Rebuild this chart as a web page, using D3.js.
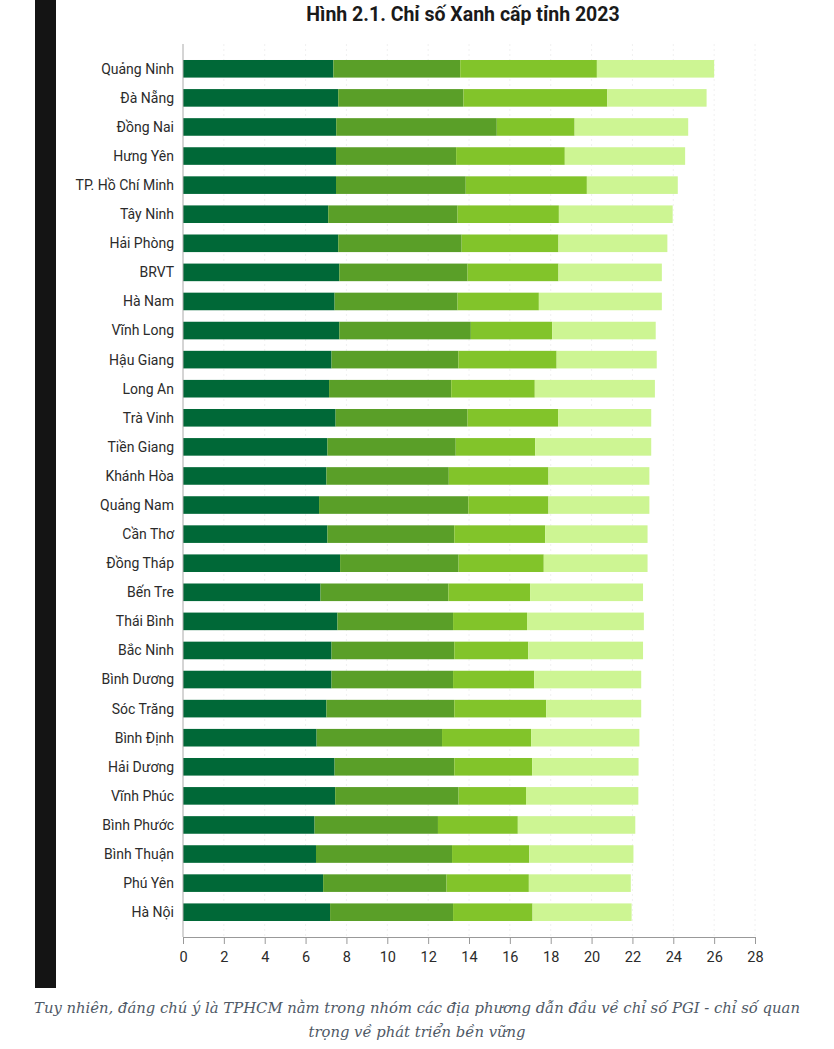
<!DOCTYPE html>
<html>
<head>
<meta charset="utf-8">
<script src="https://cdn.jsdelivr.net/npm/d3@7"></script>
<style>
  body { margin: 0; background: #fff; }
  svg { display: block; }
</style>
</head>
<body>
<div class="chart"></div>
<script>
// Chỉ số Xanh cấp tỉnh 2023 - bốn thành phần
var provinces = ["Quảng Ninh", "Đà Nẵng", "Đồng Nai", "Hưng Yên", "TP. Hồ Chí Minh", "Tây Ninh",
    "Hải Phòng", "BRVT", "Hà Nam", "Vĩnh Long", "Hậu Giang", "Long An", "Trà Vinh", "Tiền Giang",
    "Khánh Hòa", "Quảng Nam", "Cần Thơ", "Đồng Tháp", "Bến Tre", "Thái Bình", "Bắc Ninh",
    "Bình Dương", "Sóc Trăng", "Bình Định", "Hải Dương", "Vĩnh Phúc", "Bình Phước", "Bình Thuận",
    "Phú Yên", "Hà Nội"];
var part1 = [7.36, 7.60, 7.50, 7.49, 7.49, 7.11, 7.60, 7.65, 7.42, 7.65, 7.27, 7.15, 7.47, 7.07,
    7.02, 6.66, 7.07, 7.69, 6.73, 7.56, 7.27, 7.27, 7.02, 6.54, 7.42, 7.45, 6.44, 6.51, 6.86, 7.20];
var part2 = [6.21, 6.13, 7.86, 5.88, 6.35, 6.33, 6.04, 6.28, 6.02, 6.44, 6.21, 5.98, 6.46, 6.28,
    5.99, 7.31, 6.21, 5.80, 6.26, 5.66, 6.01, 5.95, 6.26, 6.14, 5.86, 6.04, 6.04, 6.66, 6.04, 6.02];
var part3 = [6.69, 7.04, 3.81, 5.32, 5.93, 4.96, 4.74, 4.45, 3.98, 3.98, 4.81, 4.09, 4.43, 3.89,
    4.88, 3.92, 4.45, 4.17, 4.00, 3.62, 3.62, 3.97, 4.50, 4.36, 3.81, 3.30, 3.91, 3.78, 4.03, 3.89];
var part4 = [5.74, 4.86, 5.56, 5.89, 4.45, 5.57, 5.33, 5.06, 6.02, 5.07, 4.90, 5.88, 4.56, 5.68,
    4.94, 4.94, 5.01, 5.08, 5.53, 5.72, 5.62, 5.24, 4.65, 5.30, 5.21, 5.50, 5.75, 5.10, 4.99, 4.85];
var xTicks = [0, 2, 4, 6, 8, 10, 12, 14, 16, 18, 20, 22, 24, 26, 28];

var keys = ["p1", "p2", "p3", "p4"];
var colors = ["#006837", "#5a9f28", "#82c42a", "#cdf593"];

var width = 834, height = 1049;
var x0 = 183, x1 = 755, yTop = 44, yBottom = 937;

var rows = provinces.map(function(name, i) {
    return { name: name, p1: part1[i], p2: part2[i], p3: part3[i], p4: part4[i] };
});

var svg = d3.select(".chart").append("svg")
    .attr("width", width)
    .attr("height", height);

// dải tối bên trái của ảnh chụp
svg.append("rect")
    .attr("x", 35).attr("y", 0)
    .attr("width", 21).attr("height", 988)
    .attr("fill", "#141414");

var x = d3.scaleLinear().domain([0, 28]).range([x0, x1]);
var y = d3.scaleBand().domain(provinces).range([yTop, yBottom])
    .paddingInner(0.395).paddingOuter(0.55);

// lưới dọc mờ
svg.append("g")
    .selectAll("line")
    .data(xTicks.slice(1))
    .enter().append("line")
    .attr("x1", function(d) { return x(d); })
    .attr("x2", function(d) { return x(d); })
    .attr("y1", yTop).attr("y2", yBottom)
    .attr("stroke", "#f0f0f0")
    .attr("stroke-dasharray", "2,3");

var stack = d3.stack().keys(keys);
var series = stack(rows);

svg.append("g")
    .selectAll("g")
    .data(series)
    .enter().append("g")
    .attr("fill", function(d, i) { return colors[i]; })
    .selectAll("rect")
    .data(function(d) { return d; })
    .enter().append("rect")
    .attr("x", function(d) { return x(d[0]); })
    .attr("y", function(d) { return y(d.data.name); })
    .attr("width", function(d) { return x(d[1]) - x(d[0]); })
    .attr("height", y.bandwidth());

// trục y
svg.append("line")
    .attr("x1", x0).attr("x2", x0)
    .attr("y1", yTop).attr("y2", yBottom)
    .attr("stroke", "#aaa");

svg.append("g")
    .selectAll("text")
    .data(provinces)
    .enter().append("text")
    .attr("x", 174)
    .attr("y", function(d) { return y(d) + y.bandwidth() / 2; })
    .attr("dy", "0.35em")
    .attr("text-anchor", "end")
    .style("font-family", "Roboto, 'Liberation Sans', sans-serif")
    .style("font-size", "14px")
    .style("fill", "#2b2b2b")
    .text(String);

// trục x
var xAxis = svg.append("g")
    .attr("transform", "translate(0," + yBottom + ")")
    .call(d3.axisBottom(x).tickValues(xTicks).tickSize(7).tickPadding(8));
xAxis.select(".domain").attr("stroke", "#999");
xAxis.selectAll(".tick line").attr("stroke", "#999");
xAxis.selectAll(".tick text")
    .style("font-family", "Roboto, 'Liberation Sans', sans-serif")
    .style("font-size", "14.5px")
    .style("fill", "#2b2b2b");

svg.append("text")
    .attr("x", 463).attr("y", 21)
    .attr("text-anchor", "middle")
    .style("font-family", "Roboto, 'Liberation Sans', sans-serif")
    .style("font-weight", "bold")
    .style("font-size", "19.5px")
    .style("fill", "#1a1a1a")
    .text("Hình 2.1. Chỉ số Xanh cấp tỉnh 2023");

var caption = ["Tuy nhiên, đáng chú ý là TPHCM nằm trong nhóm các địa phương dẫn đầu về chỉ số PGI - chỉ số quan",
    "trọng về phát triển bền vững"];
svg.append("g")
    .selectAll("text")
    .data(caption)
    .enter().append("text")
    .attr("x", 417)
    .attr("y", function(d, i) { return 1013 + i * 24; })
    .attr("text-anchor", "middle")
    .style("font-family", "'DejaVu Serif', serif")
    .style("font-style", "italic")
    .style("font-size", "14.8px")
    .style("fill", "#4f5966")
    .text(String);
</script>
</body>
</html>
